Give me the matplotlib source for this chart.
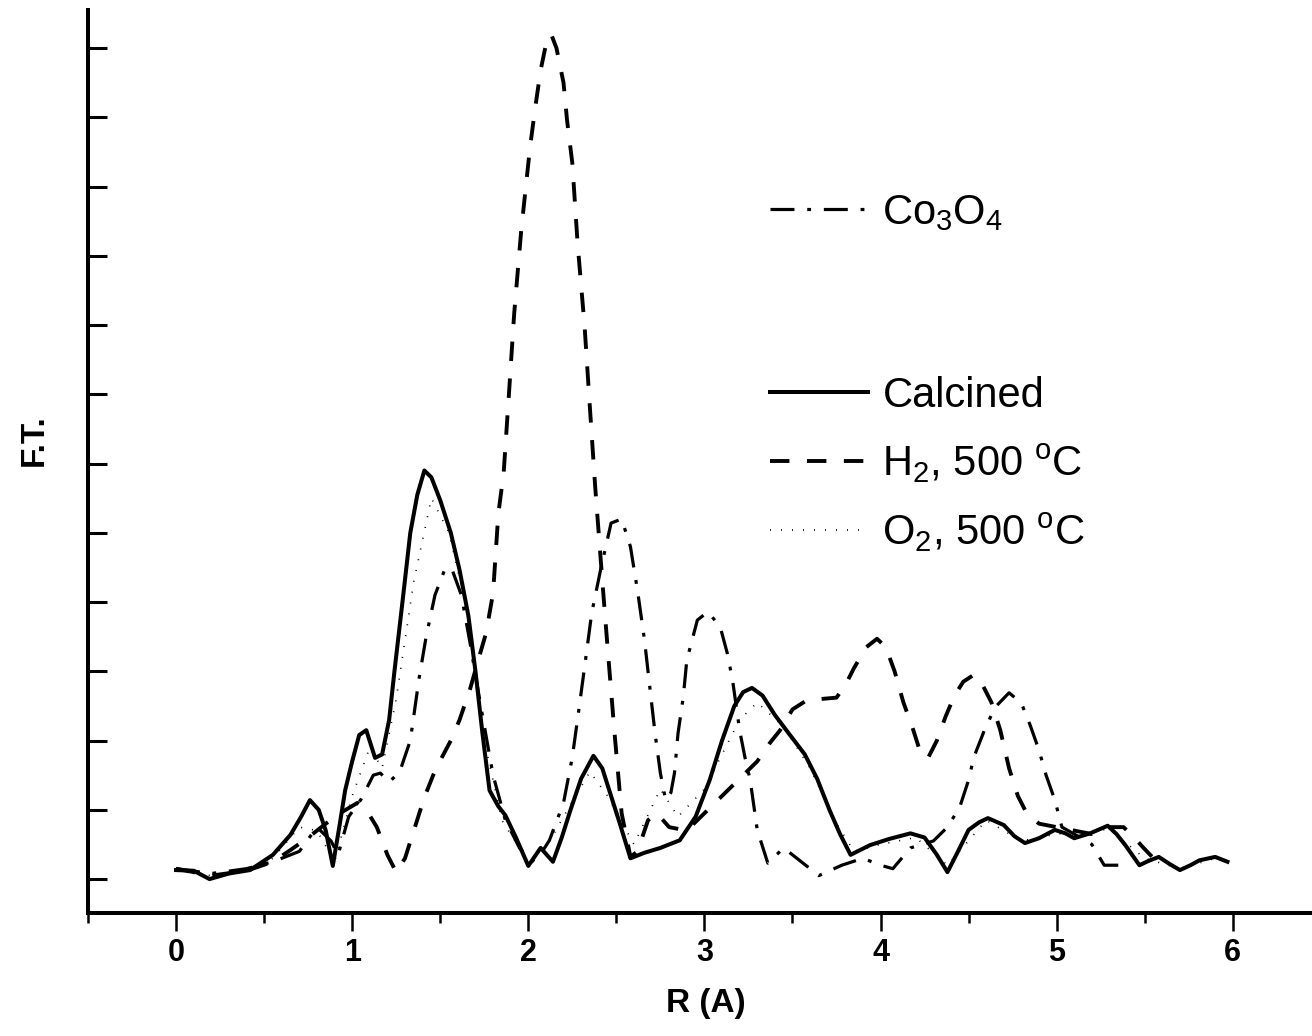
import matplotlib
matplotlib.use("Agg")
import matplotlib.pyplot as plt
from matplotlib.ticker import MultipleLocator

plt.rcParams['font.family'] = ['Liberation Sans', 'DejaVu Sans']
plt.rcParams['mathtext.fontset'] = 'custom'
plt.rcParams['mathtext.rm'] = 'Liberation Sans'
plt.rcParams['mathtext.it'] = 'Liberation Sans:italic'
plt.rcParams['mathtext.bf'] = 'Liberation Sans:bold'

# --- data (F.T. in tick units, R in Angstrom) ---
calcined_r = [0.0, 0.1, 0.19, 0.3, 0.42, 0.55, 0.65, 0.71, 0.76, 0.81, 0.85, 0.89,
              0.93, 0.96, 1.0, 1.04, 1.08, 1.13, 1.17, 1.21, 1.24, 1.29, 1.33, 1.37,
              1.41, 1.45, 1.5, 1.56, 1.61, 1.66, 1.7, 1.74, 1.78, 1.83, 1.87, 1.93,
              2.0, 2.07, 2.14, 2.19, 2.24, 2.3, 2.37, 2.42, 2.46, 2.52, 2.58, 2.66,
              2.75, 2.86, 2.95, 3.03, 3.1, 3.17, 3.22, 3.27, 3.33, 3.4, 3.48, 3.57,
              3.64, 3.71, 3.77, 3.83, 3.94, 4.05, 4.17, 4.25, 4.32, 4.38, 4.44, 4.5,
              4.56, 4.61, 4.7, 4.76, 4.82, 4.9, 4.99, 5.05, 5.1, 5.19, 5.29, 5.34,
              5.39, 5.47, 5.52, 5.58, 5.64, 5.7, 5.76, 5.81, 5.9, 5.97]
calcined_ft = [0.13, 0.12, 0.0, 0.08, 0.13, 0.35, 0.64, 0.9, 1.14, 1.0, 0.7, 0.19,
               0.8, 1.28, 1.7, 2.08, 2.15, 1.75, 1.8, 2.3, 3.0, 4.1, 5.0, 5.55,
               5.9, 5.8, 5.47, 5.0, 4.46, 3.8, 3.0, 2.1, 1.28, 1.05, 0.92, 0.6,
               0.19, 0.45, 0.25, 0.6, 1.0, 1.45, 1.78, 1.6, 1.28, 0.8, 0.3, 0.38,
               0.45, 0.56, 0.9, 1.43, 2.0, 2.5, 2.7, 2.76, 2.65, 2.37, 2.1, 1.8,
               1.45, 1.0, 0.65, 0.35, 0.49, 0.58, 0.66, 0.6, 0.35, 0.1, 0.4, 0.71,
               0.82, 0.88, 0.78, 0.62, 0.52, 0.59, 0.71, 0.66, 0.59, 0.66, 0.77, 0.65,
               0.49, 0.2, 0.26, 0.32, 0.22, 0.13, 0.2, 0.27, 0.32, 0.25]

h2_r = [0.0, 0.2, 0.4, 0.55, 0.65, 0.75, 0.85, 0.95, 1.03, 1.08, 1.14, 1.2, 1.25,
        1.3, 1.35, 1.41, 1.46, 1.51, 1.56, 1.61, 1.67, 1.72, 1.76, 1.8, 1.83, 1.86,
        1.89, 1.92, 1.96, 2.01, 2.04, 2.07, 2.1, 2.13, 2.16, 2.2, 2.22, 2.25, 2.28,
        2.32, 2.35, 2.38, 2.42, 2.45, 2.49, 2.53, 2.58, 2.62, 2.68, 2.73, 2.8, 2.9,
        3.0, 3.1, 3.2, 3.3, 3.37, 3.43, 3.5, 3.58, 3.66, 3.75, 3.8, 3.85, 3.92, 3.98,
        4.03, 4.08, 4.13, 4.18, 4.23, 4.27, 4.32, 4.37, 4.42, 4.47, 4.53, 4.58, 4.63,
        4.68, 4.73, 4.78, 4.83, 4.9, 5.0, 5.1, 5.2, 5.3, 5.38, 5.44, 5.49, 5.55]
h2_ft = [0.15, 0.05, 0.12, 0.25, 0.42, 0.6, 0.8, 0.98, 1.1, 1.0, 0.75, 0.35, 0.1,
         0.3, 0.7, 1.18, 1.5, 1.76, 2.0, 2.3, 2.75, 3.2, 3.55, 4.13, 5.28, 5.86,
         7.0, 8.17, 9.37, 10.57, 11.15, 11.68, 12.05, 12.2, 12.0, 11.5, 10.96, 10.34, 9.18,
         7.97, 6.8, 5.66, 4.32, 3.35, 2.1, 0.95, 0.32, 0.4, 0.85, 0.95, 0.75, 0.7,
         0.95, 1.2, 1.45, 1.7, 1.96, 2.15, 2.45, 2.58, 2.6, 2.62, 2.8, 3.05, 3.35, 3.47,
         3.35, 3.0, 2.55, 2.2, 1.8, 1.75, 2.0, 2.35, 2.65, 2.85, 2.95, 2.8, 2.55,
         2.15, 1.6, 1.2, 0.95, 0.8, 0.75, 0.7, 0.65, 0.75, 0.75, 0.6, 0.46, 0.3]

co3o4_r = [0.0, 0.2, 0.4, 0.55, 0.7, 0.8, 0.88, 0.92, 0.98, 1.05, 1.12, 1.16, 1.21,
           1.27, 1.33, 1.38, 1.42, 1.47, 1.53, 1.57, 1.62, 1.67, 1.73, 1.8, 1.87, 1.95,
           2.02, 2.08, 2.12, 2.2, 2.25, 2.29, 2.33, 2.36, 2.41, 2.47, 2.53, 2.58, 2.62,
           2.66, 2.69, 2.72, 2.75, 2.78, 2.81, 2.83, 2.85, 2.88, 2.9, 2.96, 3.02, 3.09,
           3.13, 3.16, 3.2, 3.23, 3.26, 3.3, 3.36, 3.45, 3.55, 3.65, 3.78, 3.9, 4.0,
           4.07, 4.17, 4.3, 4.38, 4.45, 4.5, 4.53, 4.59, 4.65, 4.73, 4.8, 4.85, 4.9,
           4.94, 4.99, 5.03, 5.1, 5.2, 5.27, 5.35]
co3o4_ft = [0.15, 0.08, 0.15, 0.25, 0.4, 0.75, 0.55, 0.35, 0.9, 1.15, 1.5, 1.53, 1.4,
            1.55, 2.0, 2.9, 3.5, 4.1, 4.5, 4.45, 4.1, 3.4, 2.5, 1.5, 0.85, 0.45,
            0.25, 0.4, 0.56, 1.1, 1.76, 2.5, 3.26, 3.84, 4.46, 5.14, 5.2, 4.8, 4.17,
            3.45, 2.77, 2.1, 1.53, 1.14, 1.25, 1.53, 2.1, 2.63, 3.16, 3.74, 3.86, 3.64,
            3.26, 2.87, 2.15, 1.76, 1.43, 0.71, 0.23, 0.45, 0.25, 0.05, 0.2, 0.3, 0.2,
            0.15, 0.45, 0.55, 0.75, 1.04, 1.43, 1.76, 2.15, 2.48, 2.69, 2.54, 2.22, 1.86,
            1.5, 1.14, 0.75, 0.65, 0.5, 0.2, 0.2]

o2_r = [0.0, 0.2, 0.4, 0.55, 0.7, 0.8, 0.9, 1.0, 1.1, 1.17, 1.25, 1.35, 1.45, 1.55,
        1.65, 1.75, 1.85, 2.0, 2.1, 2.2, 2.35, 2.45, 2.6, 2.75, 2.85, 3.0, 3.2, 3.3,
        3.45, 3.6, 3.75, 3.85, 4.0, 4.2, 4.38, 4.6, 4.8, 5.0, 5.3, 5.5, 5.7, 5.9, 5.97]
o2_ft = [0.12, 0.05, 0.12, 0.3, 0.75, 0.7, 0.25, 1.2, 1.9, 1.6, 2.6, 4.3, 5.5, 5.0,
         3.9, 2.0, 0.85, 0.25, 0.45, 0.9, 1.55, 1.2, 0.5, 1.3, 0.9, 1.3, 2.3, 2.55,
         2.2, 1.6, 0.8, 0.4, 0.5, 0.6, 0.2, 0.85, 0.55, 0.65, 0.72, 0.3, 0.15, 0.3, 0.25]

x_ticks = [0, 1, 2, 3, 4, 5, 6]

fig = plt.figure(figsize=(13.12, 10.36), dpi=100)
ax = fig.add_axes([88 / 1312, 123 / 1036, 1 - 88 / 1312, 903 / 1036])

l_co, = ax.plot(co3o4_r, co3o4_ft, color='black', lw=2.3,
                linestyle=(0, (7.5, 4, 1.2, 4)), label='Co$_3$O$_4$',
                dash_joinstyle='round')
l_ca, = ax.plot(calcined_r, calcined_ft, color='black', lw=2.9, label='Calcined',
                solid_joinstyle='round')
l_h2, = ax.plot(h2_r, h2_ft, color='black', lw=2.8,
                linestyle=(0, (5, 4.5)), label='H$_2$, 500 $^{\\rm o}$C',
                dash_joinstyle='round')
l_o2, = ax.plot(o2_r, o2_ft, color='black', lw=1.2,
                linestyle=(0, (0.6, 6)), label='O$_2$, 500 $^{\\rm o}$C')

ax.set_xlim(-0.5, 6.45)
ax.set_ylim(-0.49, 12.55)

ax.xaxis.set_minor_locator(MultipleLocator(0.5))
ax.yaxis.set_major_locator(MultipleLocator(1))
ax.set_xticks(x_ticks)
ax.set_yticklabels([])
ax.tick_params(axis='x', which='major', direction='out', length=13, width=1.8,
               labelsize=22, pad=5)
ax.tick_params(axis='x', which='minor', direction='out', length=7, width=1.8)
ax.tick_params(axis='y', which='major', direction='in', length=14, width=2.2,
               labelleft=False)
for lab in ax.get_xticklabels():
    lab.set_fontweight('bold')

for side in ('top', 'right'):
    ax.spines[side].set_visible(False)
for side in ('left', 'bottom'):
    ax.spines[side].set_linewidth(2.9)

ax.set_xlabel('R (A)', fontsize=24, fontweight='bold')
ax.set_ylabel('F.T.', fontsize=24, fontweight='bold')
ax.xaxis.set_label_coords(0.505, -0.083)
ax.yaxis.set_label_coords(-0.031, 0.524)

leg1 = ax.legend(handles=[l_co], loc='upper left', frameon=False, fontsize=30,
                 bbox_to_anchor=(770 / 1312, 1 - 193 / 1036),
                 bbox_transform=fig.transFigure, borderpad=0, borderaxespad=0,
                 handlelength=2.35, handletextpad=0.35)
ax.add_artist(leg1)
ax.legend(handles=[l_ca, l_h2, l_o2], loc='upper left', frameon=False, fontsize=30,
          bbox_to_anchor=(770 / 1312, 1 - 376 / 1036),
          bbox_transform=fig.transFigure, borderpad=0, borderaxespad=0,
          handlelength=2.35, handletextpad=0.35, labelspacing=0.62)

fig.savefig('out.png', dpi=100)
